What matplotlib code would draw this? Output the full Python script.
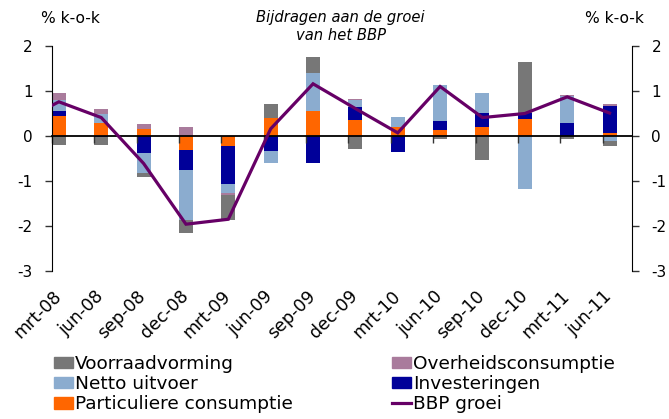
import numpy as np
import matplotlib
matplotlib.use("Agg")
import matplotlib.pyplot as plt
from matplotlib.patches import Patch
from matplotlib.lines import Line2D
from matplotlib.transforms import ScaledTranslation

plt.rcParams['font.family'] = ['DejaVu Sans']

categories = ["mrt-08", "jun-08", "sep-08", "dec-08", "mrt-09", "jun-09", "sep-09",
              "dec-09", "mrt-10", "jun-10", "sep-10", "dec-10", "mrt-11", "jun-11"]

particuliere = [0.45, 0.30, 0.15, -0.31, -0.22, 0.41, 0.56, 0.36, 0.19, 0.13, 0.21, 0.37, 0.00, 0.07]
investeringen = [0.10, -0.03, -0.37, -0.44, -0.84, -0.33, -0.61, 0.28, -0.36, 0.21, 0.30, 0.14, 0.29, 0.59]
netto_uitvoer = [0.26, 0.19, -0.46, -1.11, -0.21, -0.26, 0.83, 0.16, 0.23, 0.79, 0.44, -1.17, 0.61, -0.10]
overheid = [0.15, 0.10, 0.12, 0.19, -0.03, 0.00, 0.00, 0.02, 0.00, 0.01, -0.02, 0.00, 0.01, 0.06]
voorraad = [-0.21, -0.16, -0.07, -0.30, -0.56, 0.31, 0.36, -0.29, 0.00, -0.06, -0.52, 1.14, -0.06, -0.12]
bbp_prev = 0.27  # previous quarter (dec-07), only partly visible at left edge
bbp_groei = [0.76, 0.41, -0.61, -1.96, -1.85, 0.16, 1.16, 0.61, 0.07, 1.10, 0.41, 0.50, 0.87, 0.51]

y_ticks = [2, 1, 0, -1, -2, -3]

c_voorraad = "#777777"
c_overheid = "#A97B9C"
c_netto = "#8BACCF"
c_inv = "#000099"
c_part = "#FF6600"
c_bbp = "#660066"

fig = plt.figure(figsize=(6.69, 4.19), dpi=100)
ax = fig.add_axes([0.0777, 0.3532, 0.9447 - 0.0777, 0.8902 - 0.3532])

x = np.arange(len(categories))
width = 0.33

series = [(particuliere, c_part), (investeringen, c_inv), (netto_uitvoer, c_netto),
          (overheid, c_overheid), (voorraad, c_voorraad)]
pos_bottom = np.zeros(len(x))
neg_bottom = np.zeros(len(x))
for vals, col in series:
    v = np.array(vals)
    pos = np.where(v > 0, v, 0)
    neg = np.where(v < 0, v, 0)
    ax.bar(x, pos, width, bottom=pos_bottom, color=col, zorder=1, linewidth=0)
    ax.bar(x, neg, width, bottom=neg_bottom, color=col, zorder=1, linewidth=0)
    pos_bottom += pos
    neg_bottom += neg

x_line = np.concatenate([[-1], x])
y_line = np.concatenate([[bbp_prev], bbp_groei])
ax.plot(x_line, y_line, color=c_bbp, lw=2.3, zorder=4, solid_joinstyle='miter')

ax.set_xlim(-0.163, 13.53)
ax.set_ylim(-3, 2)
ax.set_yticks(y_ticks)
ax.set_yticklabels([str(t) for t in y_ticks])
ax.tick_params(axis='y', which='both', left=True, right=True, labelleft=True, labelright=True,
               direction='out', length=5, width=1, labelsize=11, pad=9, color='#333333')

ax.spines['top'].set_visible(False)
ax.spines['bottom'].set_position(('data', 0))
ax.spines['bottom'].set_linewidth(1.3)
ax.spines['bottom'].set_zorder(3)
ax.set_xticks(x - 0.163)
ax.set_xticklabels([])
ax.tick_params(axis='x', direction='out', length=5, width=1, color='#333333')

secax = ax.secondary_xaxis(0.0)
secax.set_xticks(x)
secax.set_xticklabels(categories, rotation=45, ha='right', fontsize=12.5)
secax.tick_params(axis='x', length=0, pad=11.5)
secax.spines['bottom'].set_visible(False)
offset = ScaledTranslation(6 / 100, 0, fig.dpi_scale_trans)
for lab in secax.get_xticklabels():
    lab.set_transform(lab.get_transform() + offset)

fig.text(0.105, 0.957, "% k-o-k", fontsize=11.2, ha='center', va='center')
fig.text(0.9185, 0.957, "% k-o-k", fontsize=11.2, ha='center', va='center')
fig.text(0.509, 0.958, "Bijdragen aan de groei", fontsize=10.6, style='italic', ha='center', va='center')
fig.text(0.509, 0.916, "van het BBP", fontsize=10.6, style='italic', ha='center', va='center')

handles = [Patch(color=c_voorraad), Patch(color=c_netto), Patch(color=c_part),
           Patch(color=c_overheid), Patch(color=c_inv), Line2D([], [], color=c_bbp, lw=2.3)]
labels = ["Voorraadvorming", "Netto uitvoer", "Particuliere consumptie",
          "Overheidsconsumptie", "Investeringen", "BBP groei"]
fig.legend(handles, labels, ncol=2, loc='upper left', bbox_to_anchor=(54 / 669, 1 - 355 / 419),
           frameon=False, fontsize=13.3, handlelength=1.01, handleheight=0.58,
           handletextpad=0.1, columnspacing=5.4, labelspacing=0.12, borderpad=0,
           borderaxespad=0)

fig.savefig("out.png", dpi=100)
